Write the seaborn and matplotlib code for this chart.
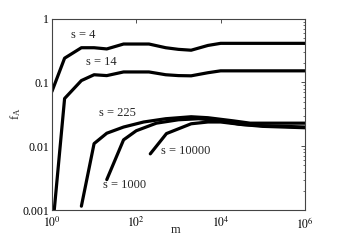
import numpy as np
import seaborn as sns
import matplotlib
matplotlib.use('Agg')
import matplotlib.pyplot as plt
from matplotlib.ticker import FixedLocator, FixedFormatter, LogLocator, NullFormatter

# values (m, f_A) for each s
m_s4 = [1, 2, 5, 10, 20, 50, 200, 500, 1000, 2000, 5000, 1e4, 1e5, 1e6]
f_s4 = [0.072, 0.24, 0.35, 0.35, 0.335, 0.40, 0.40, 0.35, 0.33, 0.32, 0.38, 0.41, 0.41, 0.41]

m_s14 = [1, 2, 5, 10, 20, 50, 200, 500, 1000, 2000, 5000, 1e4, 1e5, 1e6]
f_s14 = [0.0004, 0.056, 0.107, 0.132, 0.128, 0.146, 0.146, 0.132, 0.128, 0.127, 0.142, 0.152, 0.152, 0.152]

m_s225 = [5, 10, 20, 50, 150, 500, 2000, 5000, 2e4, 5e4, 1e5, 1e6]
f_s225 = [0.00115, 0.011, 0.016, 0.020, 0.024, 0.027, 0.029, 0.028, 0.025, 0.023, 0.023, 0.023]

m_s1000 = [20, 50, 100, 300, 1000, 3000, 1e4, 3e4, 1e5, 1e6]
f_s1000 = [0.003, 0.0126, 0.0175, 0.023, 0.026, 0.027, 0.025, 0.022, 0.021, 0.020]

m_s10000 = [215, 520, 2000, 5000, 1e4, 3e4, 1e5, 1e6]
f_s10000 = [0.0076, 0.0158, 0.0225, 0.024, 0.024, 0.022, 0.0205, 0.0195]

labels = ['s = 4', 's = 14', 's = 225', 's = 1000', 's = 10000']
label_pos = [(2.9, 0.56), (6.4, 0.206), (13.4, 0.0333), (16.4, 0.00243), (394, 0.0083)]

sns.set_style('white')
plt.rcParams['font.family'] = ['Liberation Serif', 'DejaVu Serif']
plt.rcParams['mathtext.fontset'] = 'stix'

fig = plt.figure(figsize=(3.37, 2.42), dpi=100)
ax = fig.add_axes([0.154, 0.132, 0.751, 0.791])

series = [(m_s4, f_s4), (m_s14, f_s14), (m_s225, f_s225),
          (m_s1000, f_s1000), (m_s10000, f_s10000)]
for m, f in series:
    sns.lineplot(x=m, y=f, ax=ax, color='black', linewidth=2.3,
                 sort=False, estimator=None)

ax.set_xscale('log')
ax.set_yscale('log')
ax.set_xlim(1, 1e6)
ax.set_ylim(0.001, 1)

ax.xaxis.set_major_locator(FixedLocator([1, 1e2, 1e4, 1e6]))
ax.xaxis.set_major_formatter(FixedFormatter(['$10^{0}$', '$10^{2}$', '$10^{4}$', '$10^{6}$']))
ax.xaxis.set_minor_locator(FixedLocator([]))
ax.yaxis.set_major_locator(FixedLocator([0.001, 0.01, 0.1, 1]))
ax.yaxis.set_major_formatter(FixedFormatter(['0.001', '0.01', '0.1', '1']))
ax.yaxis.set_minor_locator(LogLocator(base=10, subs=np.arange(2, 10)))
ax.yaxis.set_minor_formatter(NullFormatter())

ax.tick_params(which='both', direction='in', top=True, right=True,
               labelsize=8.5, colors='#333333', labelcolor='black', pad=2)
ax.tick_params(axis='x', pad=4)
ax.tick_params(which='major', length=3, width=0.6)
ax.tick_params(which='minor', length=1.5, width=0.5)
for sp in ax.spines.values():
    sp.set_color('#444444')
    sp.set_linewidth(0.8)

ax.set_xlabel('m', fontsize=9)
ax.set_ylabel('f$_\\mathregular{A}$', fontsize=9)
ax.xaxis.set_label_coords(0.49, -0.075)
ax.yaxis.set_label_coords(-0.115, 0.505)

for txt, (x, y) in zip(labels, label_pos):
    ax.text(x, y, txt, fontsize=9, ha='left', va='center')

fig.savefig('out.png', dpi=100)
